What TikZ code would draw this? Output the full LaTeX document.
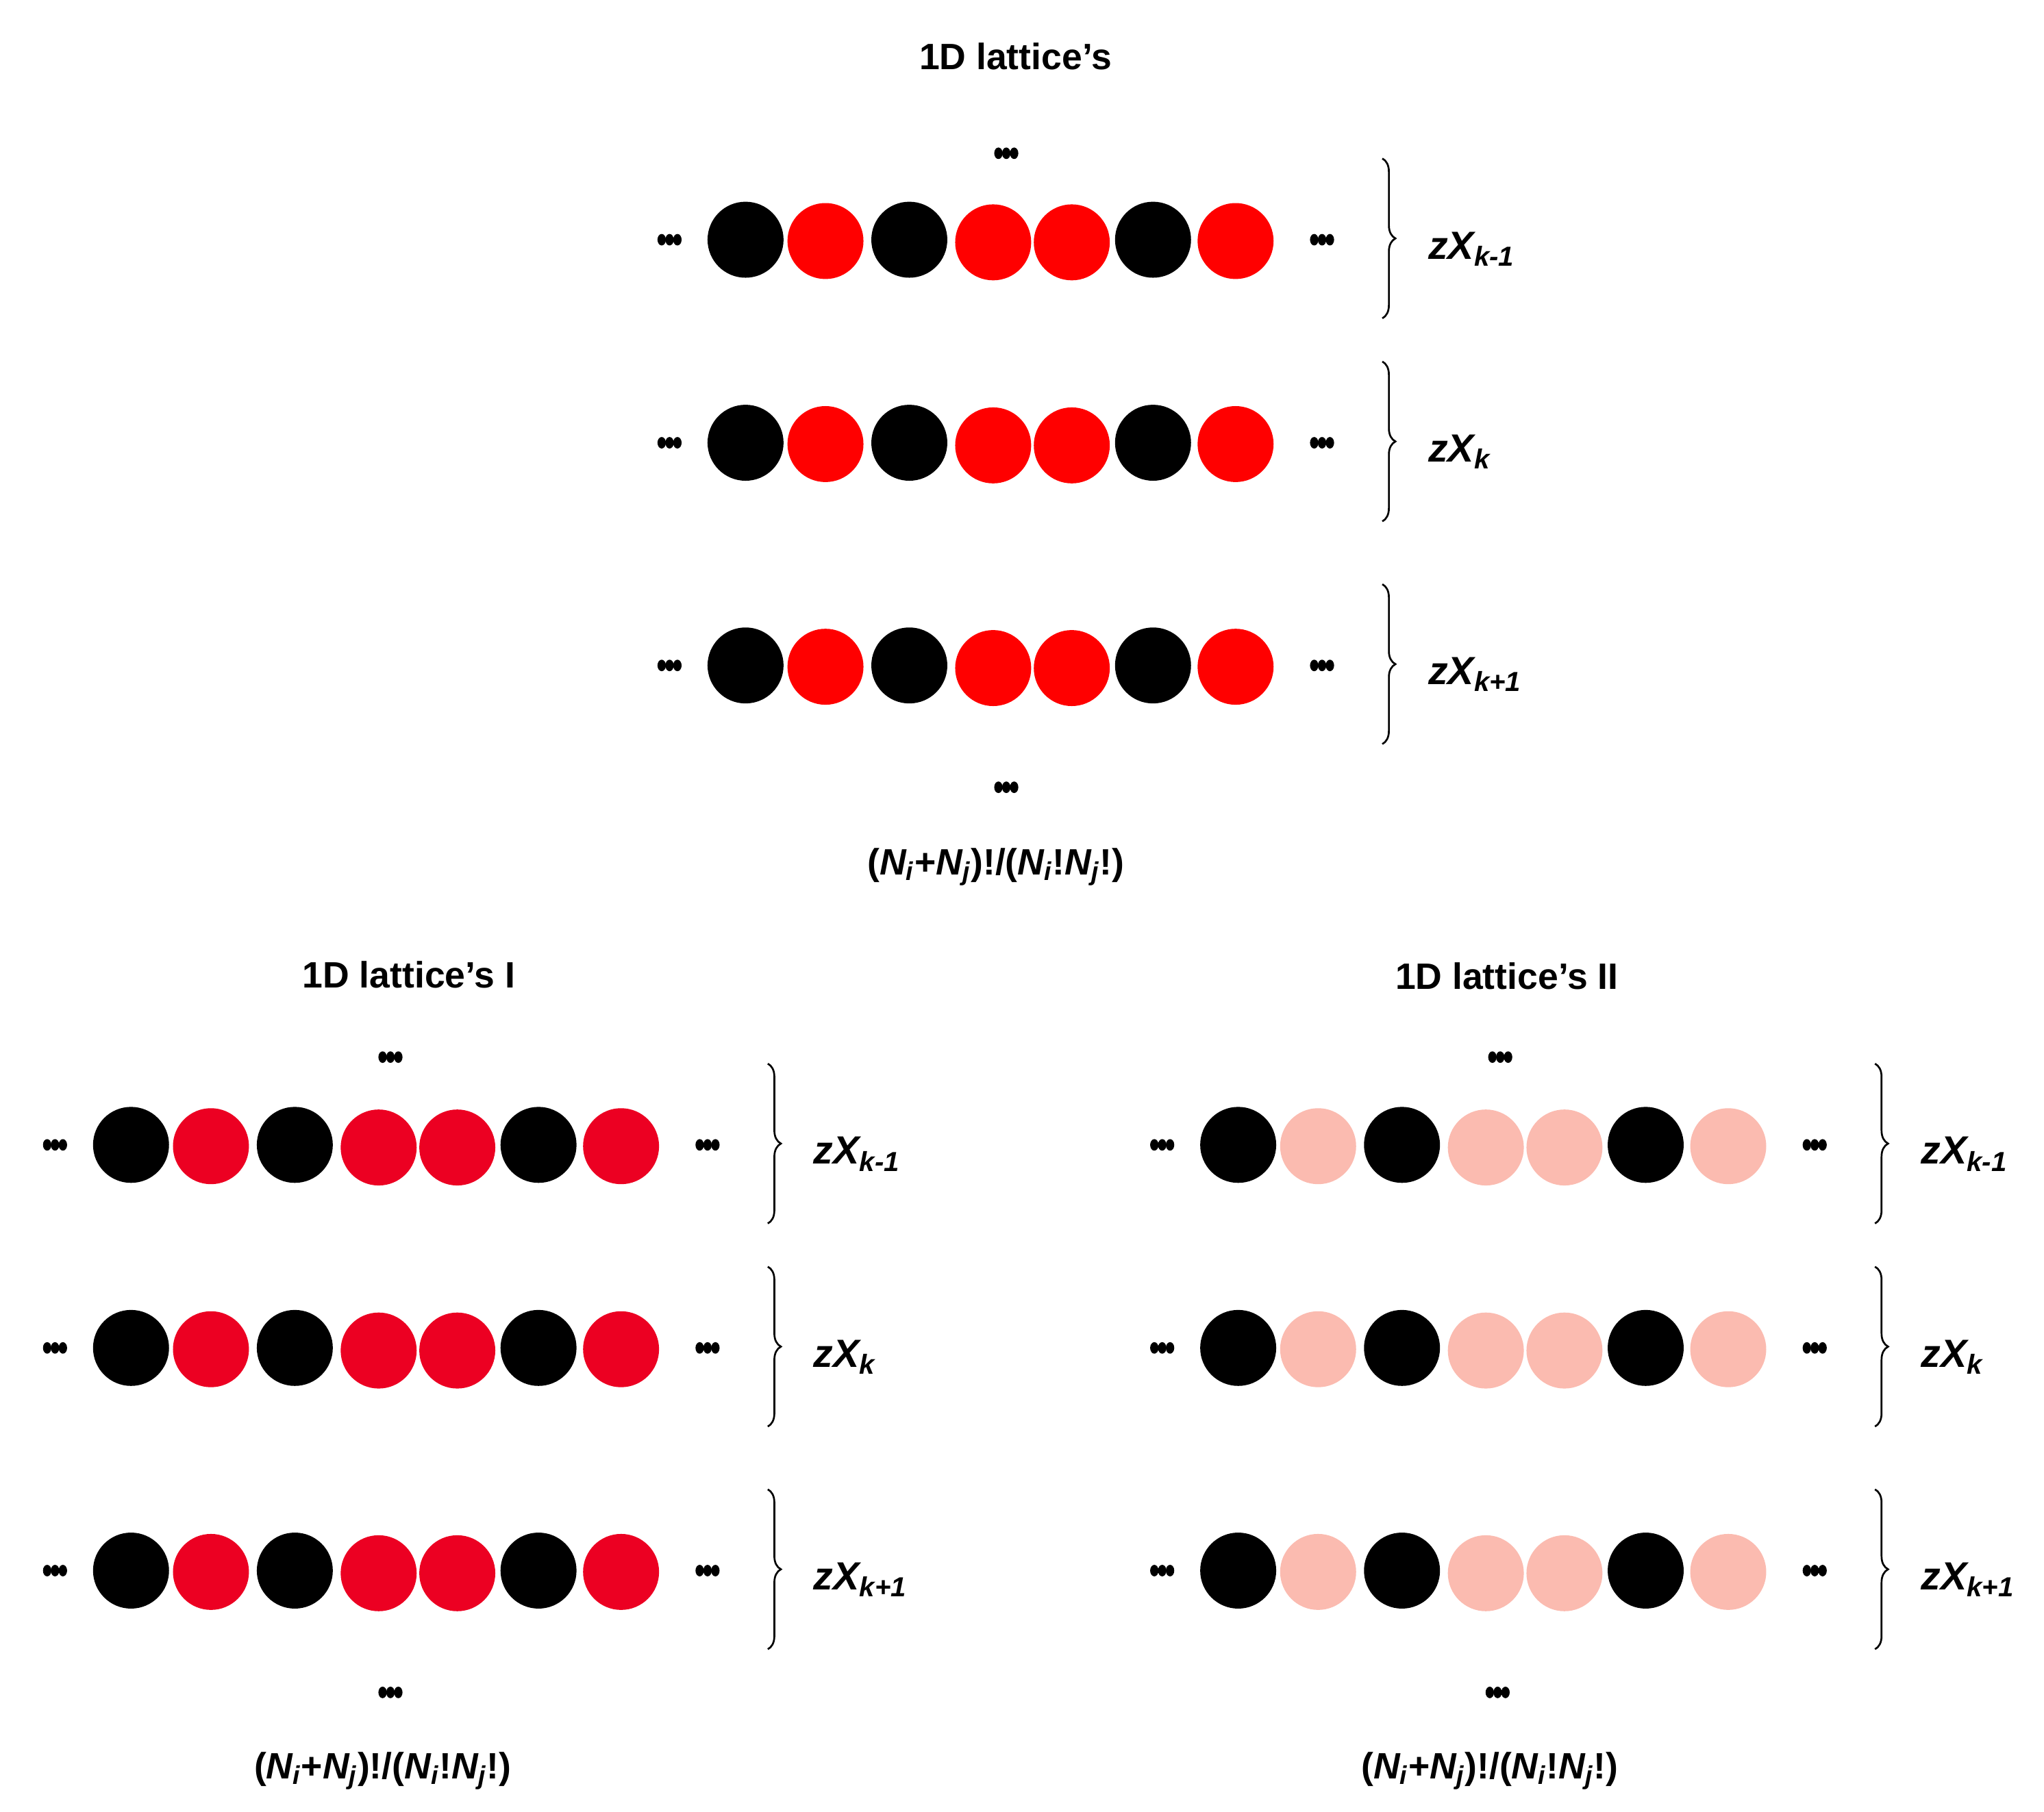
\documentclass[tikz,border=0pt]{standalone}
\usepackage{fontspec}
\setmainfont{Liberation Sans}
\usetikzlibrary{decorations.pathreplacing}
\definecolor{rA}{HTML}{FF0000}
\definecolor{rB}{HTML}{EC0022}
\definecolor{rC}{HTML}{FBBBB0}
\tikzset{
  ball/.style={circle,inner sep=0pt,minimum size=29pt},
  dot/.style={ellipse,fill=black,inner sep=0pt,minimum width=3.2pt,minimum height=4.4pt},
  br/.style={decorate,decoration={brace,amplitude=5pt},line width=0.7pt},
  lbl/.style={font=\bfseries\itshape\fontsize{15}{18}\selectfont,anchor=west},
  ttl/.style={font=\bfseries\fontsize{14}{17}\selectfont}
}
\usetikzlibrary{shapes.geometric}
\newcommand{\dotsat}[3]{% name, x, y
  \node[dot] (#1a) at (#2-6,#3) {};
  \node[dot] (#1b) at (#2,#3) {};
  \node[dot] (#1c) at (#2+6,#3) {};}
\newcommand{\lrow}[5]{% name, x0, y, color, label
  \foreach \dx/\c/\k [count=\i] in {0/black/0,61/#4/1,125/black/0,189/#4/2,249/#4/2,311/black/0,374/#4/1}{
    \node[ball,fill=\c] (#1c\i) at (#2+\dx,#3+\k) {};
  }
  \dotsat{#1L}{#2-58}{#3}
  \dotsat{#1R}{#2+440}{#3}
  \coordinate (#1bt) at (#2+486,#3-62);
  \coordinate (#1bb) at (#2+486,#3+60);
  \draw[br] (#1bt) -- (#1bb);
  \node[lbl] (#1t) at (#2+514,#3+7) {#5};
}
\begin{document}
\begin{tikzpicture}[x=0.5pt,y=-0.5pt]
\useasboundingbox (0,0) rectangle (1560,1383);
% top group
\node[ttl] (t1) at (775,43) {1D lattice's};
\dotsat{tu}{768}{117}
\lrow{a}{569}{183}{rA}{zX\textsubscript{k-1}}
\lrow{b}{569}{338}{rA}{zX\textsubscript{k}}
\lrow{c}{569}{508}{rA}{zX\textsubscript{k+1}}
\dotsat{td}{768}{601}
\node[ttl] (f1) at (760,662) {(\textit{N\textsubscript{i}}+\textit{N\textsubscript{j}})!/(\textit{N\textsubscript{i}}!\textit{N\textsubscript{j}}!)};
% lower left
\node[ttl] (t2) at (312,744) {1D lattice's I};
\dotsat{lu}{298}{807}
\lrow{d}{100}{874}{rB}{zX\textsubscript{k-1}}
\lrow{e}{100}{1029}{rB}{zX\textsubscript{k}}
\lrow{f}{100}{1199}{rB}{zX\textsubscript{k+1}}
\dotsat{ld}{298}{1292}
\node[ttl] (f2) at (292,1352) {(\textit{N\textsubscript{i}}+\textit{N\textsubscript{j}})!/(\textit{N\textsubscript{i}}!\textit{N\textsubscript{j}}!)};
% lower right
\node[ttl] (t3) at (1150,745) {1D lattice's II};
\dotsat{ru}{1145}{807}
\lrow{g}{945}{874}{rC}{zX\textsubscript{k-1}}
\lrow{h}{945}{1029}{rC}{zX\textsubscript{k}}
\lrow{i}{945}{1199}{rC}{zX\textsubscript{k+1}}
\dotsat{rd}{1143}{1292}
\node[ttl] (f3) at (1137,1352) {(\textit{N\textsubscript{i}}+\textit{N\textsubscript{j}})!/(\textit{N\textsubscript{i}}!\textit{N\textsubscript{j}}!)};
\end{tikzpicture}
\end{document}
